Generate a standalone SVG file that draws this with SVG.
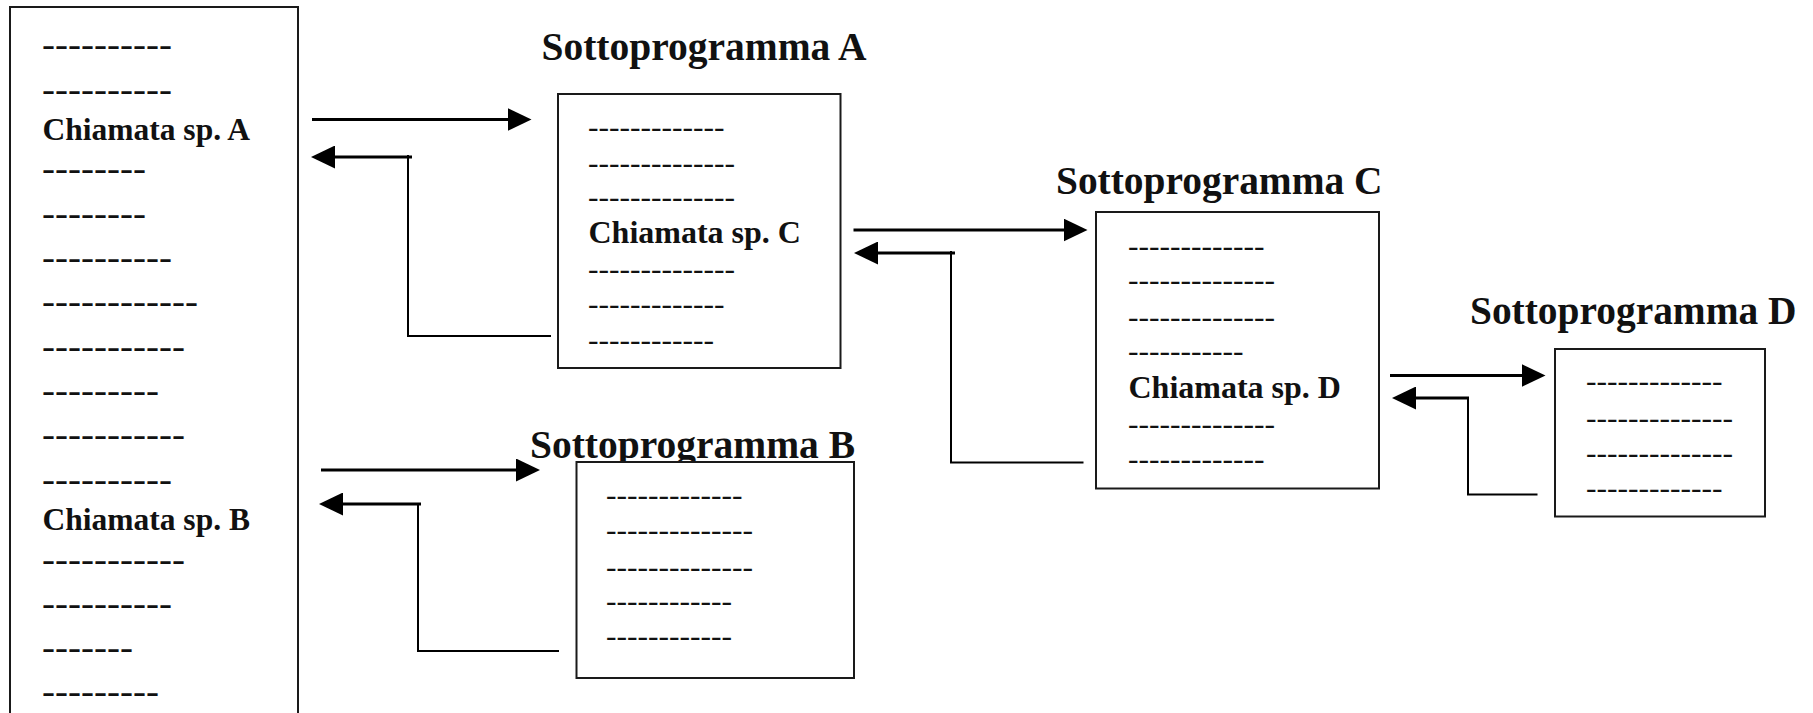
<svg xmlns="http://www.w3.org/2000/svg" width="1813" height="713" viewBox="0 0 1813 713">
  <style>
    .box { fill: #fff; stroke: #1a1a1a; stroke-width: 2; }
    .txt { font-family: "Liberation Serif", "Times New Roman", serif; fill: #111; }
    .call { font-weight: bold; font-size: 32px; }
    .title { font-weight: bold; font-size: 39px; }
    .dm { font-weight: bold; font-size: 31.5px; }
    .ds { font-weight: normal; font-size: 31.5px; }
    .shaft { fill: none; stroke: #000; stroke-width: 3; }
    .ret { fill: none; stroke: #000; stroke-width: 2; }
  </style>
  <defs>
    <marker id="head" markerUnits="userSpaceOnUse" markerWidth="24" markerHeight="23" refX="14" refY="11.5" orient="auto" viewBox="0 0 24 23">
      <path d="M0,0 L24,11.5 L0,23 Z" fill="#000"/>
    </marker>
  </defs>
  <rect width="1813" height="713" fill="#fff"/>

  <!-- main program -->
  <g id="main">
    <rect class="box" x="10" y="7" width="288" height="720"/>
    <g class="txt dm">
      <text x="42" y="55.3" textLength="130" lengthAdjust="spacingAndGlyphs">----------</text>
      <text x="42" y="99.7" textLength="130" lengthAdjust="spacingAndGlyphs">----------</text>
      <text x="42" y="178.7" textLength="104" lengthAdjust="spacingAndGlyphs">--------</text>
      <text x="42" y="223.7" textLength="104" lengthAdjust="spacingAndGlyphs">--------</text>
      <text x="42" y="267.7" textLength="130" lengthAdjust="spacingAndGlyphs">----------</text>
      <text x="42" y="312" textLength="156" lengthAdjust="spacingAndGlyphs">------------</text>
      <text x="42" y="357" textLength="143" lengthAdjust="spacingAndGlyphs">-----------</text>
      <text x="42" y="401" textLength="117" lengthAdjust="spacingAndGlyphs">---------</text>
      <text x="42" y="445.3" textLength="143" lengthAdjust="spacingAndGlyphs">-----------</text>
      <text x="42" y="489.7" textLength="130" lengthAdjust="spacingAndGlyphs">----------</text>
      <text x="42" y="569.7" textLength="143" lengthAdjust="spacingAndGlyphs">-----------</text>
      <text x="42" y="613.7" textLength="130" lengthAdjust="spacingAndGlyphs">----------</text>
      <text x="42" y="658" textLength="91" lengthAdjust="spacingAndGlyphs">-------</text>
      <text x="42" y="702" textLength="117" lengthAdjust="spacingAndGlyphs">---------</text>
    </g>
    <text class="txt call" x="42.5" y="139.5" style="font-size:31.5px">Chiamata sp. A</text>
    <text class="txt call" x="42.5" y="529.5" style="font-size:31.5px">Chiamata sp. B</text>
  </g>

  <!-- subprogram A -->
  <g id="sp-a">
    <text class="txt title" x="541.5" y="59.5" textLength="325" lengthAdjust="spacingAndGlyphs">Sottoprogramma A</text>
    <rect class="box" x="558" y="94" width="282.5" height="274"/>
    <g class="txt ds">
      <text x="588" y="137" textLength="136.5" lengthAdjust="spacingAndGlyphs">-------------</text>
      <text x="588" y="172.7" textLength="147" lengthAdjust="spacingAndGlyphs">--------------</text>
      <text x="588" y="207" textLength="147" lengthAdjust="spacingAndGlyphs">--------------</text>
      <text x="588" y="278.7" textLength="147" lengthAdjust="spacingAndGlyphs">--------------</text>
      <text x="588" y="313.7" textLength="136.5" lengthAdjust="spacingAndGlyphs">-------------</text>
      <text x="588" y="349.7" textLength="126" lengthAdjust="spacingAndGlyphs">------------</text>
    </g>
    <text class="txt call" x="588.5" y="243">Chiamata sp. C</text>
  </g>

  <!-- subprogram B: the box is painted over the title's descenders -->
  <g id="sp-b">
    <text class="txt title" x="530" y="457.5" textLength="325" lengthAdjust="spacingAndGlyphs">Sottoprogramma B</text>
    <rect class="box" x="576.5" y="462" width="277.5" height="216"/>
    <g class="txt ds">
      <text x="606" y="505.3" textLength="136.5" lengthAdjust="spacingAndGlyphs">-------------</text>
      <text x="606" y="540.3" textLength="147" lengthAdjust="spacingAndGlyphs">--------------</text>
      <text x="606" y="577" textLength="147" lengthAdjust="spacingAndGlyphs">--------------</text>
      <text x="606" y="611.3" textLength="126" lengthAdjust="spacingAndGlyphs">------------</text>
      <text x="606" y="646.3" textLength="126" lengthAdjust="spacingAndGlyphs">------------</text>
    </g>
  </g>

  <!-- subprogram C -->
  <g id="sp-c">
    <text class="txt title" x="1056" y="193.5" textLength="326.5" lengthAdjust="spacingAndGlyphs">Sottoprogramma C</text>
    <rect class="box" x="1096" y="212" width="283" height="276.5"/>
    <g class="txt ds">
      <text x="1128" y="256" textLength="136.5" lengthAdjust="spacingAndGlyphs">-------------</text>
      <text x="1128" y="290.3" textLength="147" lengthAdjust="spacingAndGlyphs">--------------</text>
      <text x="1128" y="327" textLength="147" lengthAdjust="spacingAndGlyphs">--------------</text>
      <text x="1128" y="361" textLength="115.5" lengthAdjust="spacingAndGlyphs">-----------</text>
      <text x="1128" y="433.7" textLength="147" lengthAdjust="spacingAndGlyphs">--------------</text>
      <text x="1128" y="468.7" textLength="136.5" lengthAdjust="spacingAndGlyphs">-------------</text>
    </g>
    <text class="txt call" x="1128.5" y="398">Chiamata sp. D</text>
  </g>

  <!-- subprogram D -->
  <g id="sp-d">
    <text class="txt title" x="1470" y="323.5" textLength="326.5" lengthAdjust="spacingAndGlyphs">Sottoprogramma D</text>
    <rect class="box" x="1555" y="349" width="210" height="167.5"/>
    <g class="txt ds">
      <text x="1586" y="391.3" textLength="136.5" lengthAdjust="spacingAndGlyphs">-------------</text>
      <text x="1586" y="427.7" textLength="147" lengthAdjust="spacingAndGlyphs">--------------</text>
      <text x="1586" y="462.7" textLength="147" lengthAdjust="spacingAndGlyphs">--------------</text>
      <text x="1586" y="497.7" textLength="136.5" lengthAdjust="spacingAndGlyphs">-------------</text>
    </g>
  </g>

  <!-- calls (right-pointing) and returns (left-pointing) -->
  <g id="connectors">
    <line class="shaft" x1="312" y1="119.5" x2="521.5" y2="119.5" marker-end="url(#head)"/>
    <line class="shaft" x1="412" y1="157" x2="321" y2="157" marker-end="url(#head)"/>
    <polyline class="ret" points="408,155 408,336 551,336"/>

    <line class="shaft" x1="321" y1="470" x2="530" y2="470" marker-end="url(#head)"/>
    <line class="shaft" x1="421" y1="504" x2="329" y2="504" marker-end="url(#head)"/>
    <polyline class="ret" points="418,503 418,651 559,651"/>

    <line class="shaft" x1="853.5" y1="230" x2="1077.5" y2="230" marker-end="url(#head)"/>
    <line class="shaft" x1="955" y1="253" x2="864" y2="253" marker-end="url(#head)"/>
    <polyline class="ret" points="951,251 951,462.5 1083.5,462.5"/>

    <line class="shaft" x1="1390" y1="375.5" x2="1535.5" y2="375.5" marker-end="url(#head)"/>
    <line class="shaft" x1="1469" y1="398" x2="1402" y2="398" marker-end="url(#head)"/>
    <polyline class="ret" points="1468,397 1468,494.5 1537.5,494.5"/>
  </g>
</svg>
